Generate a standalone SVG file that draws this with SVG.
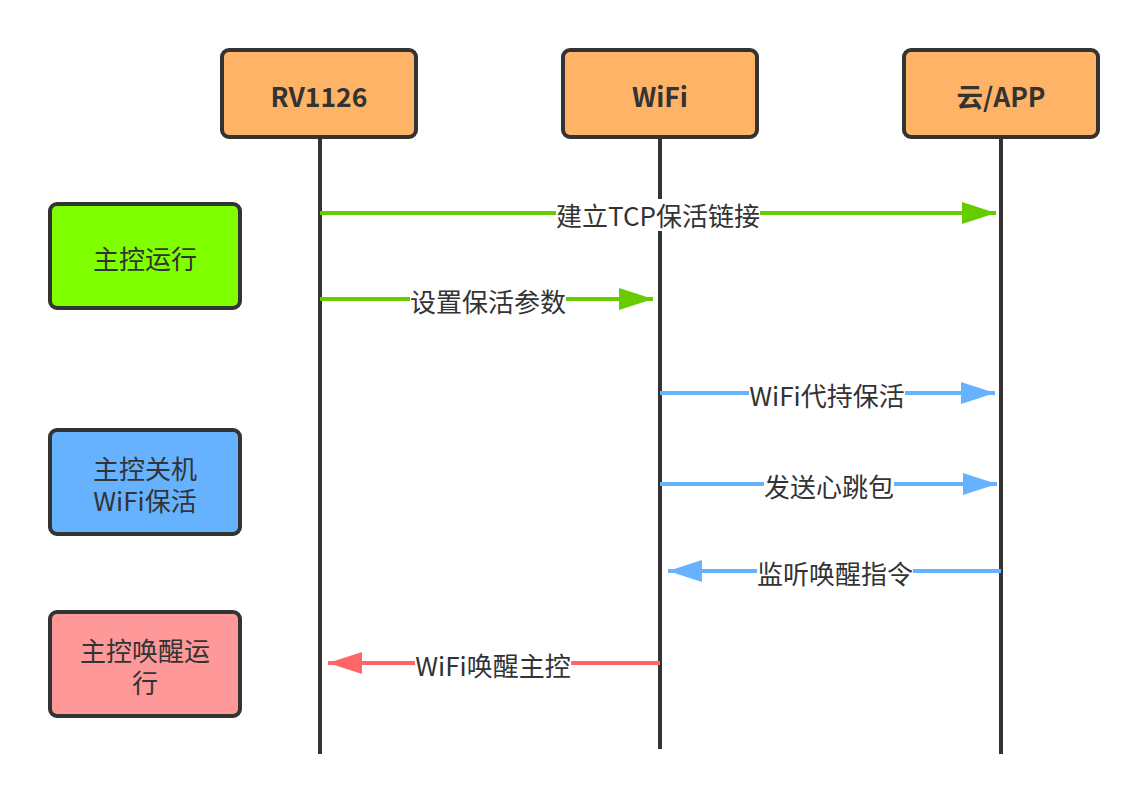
<svg xmlns="http://www.w3.org/2000/svg" width="1148" height="804" viewBox="0 0 1148 804">
<style>
.hdr{fill:#FFB366;stroke:#333;stroke-width:4}
.box{stroke:#333;stroke-width:4}
.life{stroke:#333;stroke-width:4;fill:none}
.ht{font-family:"Noto Sans CJK SC","Noto Sans",sans-serif;font-weight:bold;font-size:26.5px;fill:#333;text-anchor:middle;dominant-baseline:central}
.nt{font-family:"Noto Sans CJK SC","Noto Sans",sans-serif;font-size:26px;fill:#333;text-anchor:middle;dominant-baseline:central}
.lt{font-family:"Noto Sans CJK SC","Noto Sans",sans-serif;font-size:26px;fill:#333;text-anchor:middle;dominant-baseline:central}
.bg{fill:#fff}
.g{stroke:#66CC00;stroke-width:4;fill:none}
.b{stroke:#66B2FF;stroke-width:4;fill:none}
.r{stroke:#FF6666;stroke-width:4;fill:none}
</style>
<defs>
<marker id="ag" markerUnits="userSpaceOnUse" markerWidth="36" markerHeight="24" refX="34" refY="11" orient="auto"><path d="M0,0 L34,11 L0,22 Z" fill="#66CC00"/></marker>
<marker id="ab" markerUnits="userSpaceOnUse" markerWidth="36" markerHeight="24" refX="34" refY="11" orient="auto"><path d="M0,0 L34,11 L0,22 Z" fill="#66B2FF"/></marker>
<marker id="ar" markerUnits="userSpaceOnUse" markerWidth="36" markerHeight="24" refX="34" refY="11" orient="auto"><path d="M0,0 L34,11 L0,22 Z" fill="#FF6666"/></marker>
</defs>
<rect width="1148" height="804" fill="#fff"/>
<g id="lifelines">
<line class="life" x1="320" y1="137" x2="320" y2="754"/>
<line class="life" x1="660" y1="137" x2="660" y2="749"/>
<line class="life" x1="1001" y1="137" x2="1001" y2="754"/>
</g>
<g id="n-rv1126"><rect class="hdr" x="222" y="50" width="194" height="87" rx="7"/><text class="ht" x="319" y="95">RV1126</text></g>
<g id="n-wifi"><rect class="hdr" x="563" y="50" width="194" height="87" rx="7"/><text class="ht" x="660" y="95">WiFi</text></g>
<g id="n-cloud"><rect class="hdr" x="904" y="50" width="194" height="87" rx="7"/><text class="ht" x="1001" y="95">云/APP</text></g>
<g id="n-run"><rect class="box" fill="#80FF00" x="50" y="204" width="190" height="104" rx="7"/><text class="nt" x="145" y="257">主控运行</text></g>
<g id="n-off"><rect class="box" fill="#66B2FF" x="50" y="430" width="190" height="104" rx="7"/><text class="nt" x="145" y="467"><tspan x="145">主控关机</tspan><tspan x="145" dy="32">WiFi保活</tspan></text></g>
<g id="n-wake"><rect class="box" fill="#FF9999" x="50" y="612" width="190" height="104" rx="7"/><text class="nt" x="145" y="649"><tspan x="145">主控唤醒运</tspan><tspan x="145" dy="32">行</tspan></text></g>
<g id="connectors">
<line class="g" x1="320" y1="213" x2="996" y2="213" marker-end="url(#ag)"/>
<rect class="bg" x="556" y="199" width="204" height="32"/><text class="lt" x="658" y="214">建立TCP保活链接</text>
<line class="g" x1="320" y1="299" x2="653" y2="299" marker-end="url(#ag)"/>
<rect class="bg" x="410" y="285" width="156" height="32"/><text class="lt" x="488" y="300">设置保活参数</text>
<line class="b" x1="660" y1="393" x2="995" y2="393" marker-end="url(#ab)"/>
<rect class="bg" x="749" y="379" width="156" height="32"/><text class="lt" x="827" y="394">WiFi代持保活</text>
<line class="b" x1="660" y1="484" x2="997" y2="484" marker-end="url(#ab)"/>
<rect class="bg" x="764" y="470" width="130" height="32"/><text class="lt" x="829" y="485">发送心跳包</text>
<line class="b" x1="1001" y1="571" x2="668" y2="571" marker-end="url(#ab)"/>
<rect class="bg" x="757" y="557" width="156" height="32"/><text class="lt" x="835" y="572">监听唤醒指令</text>
<line class="r" x1="660" y1="663" x2="328" y2="663" marker-end="url(#ar)"/>
<rect class="bg" x="415" y="649" width="156" height="32"/><text class="lt" x="493" y="664">WiFi唤醒主控</text>
</g>
</svg>
